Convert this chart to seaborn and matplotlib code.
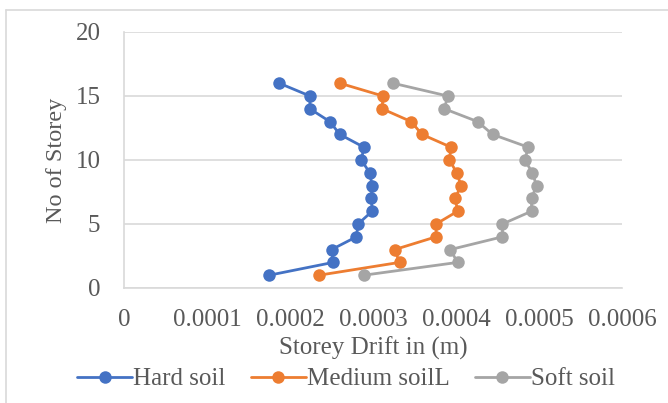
import matplotlib
matplotlib.use("Agg")
import matplotlib.pyplot as plt
import matplotlib.lines as mlines
import seaborn as sns
import pandas as pd

storeys = list(range(1, 17))
hard_soil = [0.000175, 0.000252, 0.00025, 0.00028, 0.000282, 0.000299, 0.000298, 0.000299, 0.000296,
             0.000286, 0.000289, 0.00026, 0.000248, 0.000224, 0.000224, 0.000187]
medium_soil = [0.000235, 0.000332, 0.000326, 0.000376, 0.000376, 0.000402, 0.000399, 0.000406, 0.000401,
               0.000392, 0.000394, 0.000359, 0.000346, 0.000311, 0.000312, 0.00026]
soft_soil = [0.000289, 0.000402, 0.000393, 0.000456, 0.000456, 0.000491, 0.000491, 0.000497, 0.000492,
             0.000483, 0.000487, 0.000444, 0.000426, 0.000386, 0.00039, 0.000324]
series_names = ["Hard soil", "Medium soilL", "Soft soil"]
colors = ["#4472C4", "#ED7D31", "#A5A5A5"]
x_ticks = [0, 0.0001, 0.0002, 0.0003, 0.0004, 0.0005, 0.0006]
x_tick_labels = ["0", "0.0001", "0.0002", "0.0003", "0.0004", "0.0005", "0.0006"]
y_ticks = [0, 5, 10, 15, 20]

rows = []
for name, vals in zip(series_names, [hard_soil, medium_soil, soft_soil]):
    for s, v in zip(storeys, vals):
        rows.append({"storey": s, "drift": v, "series": name})
df = pd.DataFrame(rows)

sns.set_style("white")
plt.rcParams["font.family"] = ["Liberation Serif", "DejaVu Serif"]
text_color = "#595959"
grid_color = "#D9D9D9"
fs = 18

fig = plt.figure(figsize=(6.68, 4.03), dpi=100)
ax = fig.add_axes([124 / 668, 1 - 288 / 403, (622 - 124) / 668, (288 - 32) / 403])

sns.lineplot(data=df, x="drift", y="storey", hue="series", hue_order=series_names,
             palette=colors, sort=False, estimator=None, orient="y",
             marker="o", markersize=9, markeredgewidth=0, linewidth=2.0,
             legend=False, ax=ax)

ax.set_xlim(0, 0.0006)
ax.set_ylim(0, 20)
ax.set_xticks(x_ticks)
ax.set_xticklabels(x_tick_labels)
ax.set_yticks(y_ticks)
ax.yaxis.grid(True, color=grid_color, linewidth=1.2)
ax.xaxis.grid(False)
for side in ["top", "right"]:
    ax.spines[side].set_visible(False)
for side in ["bottom", "left"]:
    ax.spines[side].set_color(grid_color)
    ax.spines[side].set_linewidth(1.2)
ax.tick_params(axis="both", length=0, labelsize=fs, labelcolor=text_color)
ax.tick_params(axis="x", pad=15)
ax.tick_params(axis="y", pad=17)
ax.set_xlabel("Storey Drift in (m)", fontsize=fs, color=text_color, labelpad=4)
ax.set_ylabel("No of Storey", fontsize=17.5, color=text_color, labelpad=6)

handles = [mlines.Line2D([], [], color=c, marker="o", markersize=9, markeredgewidth=0, linewidth=2.0)
           for c in colors]
leg = fig.legend(handles, series_names, loc="center", bbox_to_anchor=(346 / 668, 1 - 379 / 403),
                 ncol=3, frameon=False, fontsize=fs, handlelength=2.2, handletextpad=0.05,
                 columnspacing=1.0, borderpad=0, borderaxespad=0)
for t in leg.get_texts():
    t.set_color(text_color)

# chart frame (top-left corner of an outer border)
fig.add_artist(mlines.Line2D([6 / 668, 6 / 668], [0, 1 - 10 / 403], color=grid_color, linewidth=1.2,
                             transform=fig.transFigure))
fig.add_artist(mlines.Line2D([6 / 668, 1], [1 - 10 / 403, 1 - 10 / 403], color=grid_color, linewidth=1.2,
                             transform=fig.transFigure))

fig.savefig("out.png", dpi=100)
